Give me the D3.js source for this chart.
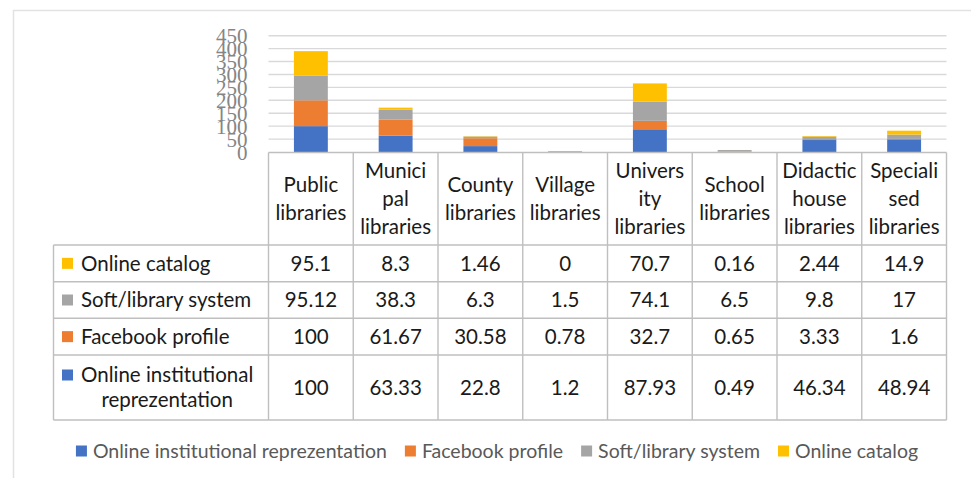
<!DOCTYPE html>
<html>
<head>
<meta charset="utf-8">
<script src="https://cdn.jsdelivr.net/npm/d3@7"></script>
<style>
  body { margin: 0; background: #fff; }
  svg { display: block; }
</style>
</head>
<body>
<div id="chart"></div>
<script>
// categories (header lines as they wrap in the table)
const categories = ['Public', 'Municipal', 'County', 'Village', 'University', 'School', 'Didactic', 'Specialised'];
const headerLines = [
    ['Public', 'libraries'],
    ['Munici', 'pal', 'libraries'],
    ['County', 'libraries'],
    ['Village', 'libraries'],
    ['Univers', 'ity', 'libraries'],
    ['School', 'libraries'],
    ['Didactic', 'house', 'libraries'],
    ['Speciali', 'sed', 'libraries']
];

// series values
const institutional = [100, 63.33, 22.8, 1.2, 87.93, 0.49, 46.34, 48.94];
const facebook = [100, 61.67, 30.58, 0.78, 32.7, 0.65, 3.33, 1.6];
const soft = [95.12, 38.3, 6.3, 1.5, 74.1, 6.5, 9.8, 17];
const catalog = [95.1, 8.3, 1.46, 0, 70.7, 0.16, 2.44, 14.9];

const seriesNames = ['Online institutional reprezentation', 'Facebook profile', 'Soft/library system', 'Online catalog'];
const seriesLabelLines = [['Online institutional', 'reprezentation'], ['Facebook profile'], ['Soft/library system'], ['Online catalog']];
const seriesValues = [institutional, facebook, soft, catalog];
const colors = ['#4472C4', '#ED7D31', '#A5A5A5', '#FFC000'];

const yTicks = [0, 50, 100, 150, 200, 250, 300, 350, 400, 450];

const W = 971, H = 478;
const font = 'Lato, "Open Sans", sans-serif';
const border = '#bfbfbf';

const svg = d3.select('#chart').append('svg')
    .attr('width', W)
    .attr('height', H);

// outer frame
svg.append('rect')
    .attr('x', 13.5).attr('y', 10.5)
    .attr('width', W + 20).attr('height', H + 20)
    .attr('fill', 'none')
    .attr('stroke', '#e2e2e2')
    .attr('stroke-width', 1.5);

const plotLeft = 268.5, plotRight = 946.5;
const plotBottom = 152, plotTop = 35.7;

const x = d3.scaleBand()
    .domain(categories)
    .range([plotLeft, plotRight])
    .padding(0);

const y = d3.scaleLinear()
    .domain([0, 450])
    .range([plotBottom, plotTop]);

// gridlines
svg.append('g')
    .selectAll('line')
    .data(yTicks.filter(d => d > 0))
    .enter()
    .append('line')
    .attr('x1', plotLeft)
    .attr('x2', plotRight)
    .attr('y1', d => y(d))
    .attr('y2', d => y(d))
    .attr('stroke', '#d9d9d9')
    .attr('stroke-width', 1.4);

// y axis
const yAxis = svg.append('g')
    .attr('transform', `translate(${plotLeft - 21}, 0)`)
    .call(d3.axisLeft(y).tickValues(yTicks).tickSize(0).tickPadding(0));
yAxis.select('.domain').remove();
yAxis.selectAll('.tick text')
    .attr('dy', '0.34em')
    .style('font-family', '"Liberation Serif", "DejaVu Serif", serif')
    .style('font-size', '21px')
    .style('fill', '#858585');

// stacked bars
const rows = categories.map((c, i) => {
    const r = { cat: c };
    seriesNames.forEach((s, j) => { r[s] = seriesValues[j][i]; });
    return r;
});
const stacked = d3.stack().keys(seriesNames)(rows);

const barW = x.bandwidth() * 0.4;
svg.append('g')
    .selectAll('g')
    .data(stacked)
    .enter()
    .append('g')
    .attr('fill', (d, i) => colors[i])
    .selectAll('rect')
    .data(d => d)
    .enter()
    .append('rect')
    .attr('x', d => x(d.data.cat) + (x.bandwidth() - barW) / 2)
    .attr('width', barW)
    .attr('y', d => y(d[1]))
    .attr('height', d => y(d[0]) - y(d[1]));

// data table
const tableLeft = 53.5;
const headerTop = plotBottom + 0.5, headerBottom = 245;
const rowEdges = [245, 281.7, 318.3, 355, 420];
const tableOrder = [3, 2, 1, 0]; // top to bottom rows
const lineH = 28;

const table = svg.append('g')
    .style('font-family', font)
    .style('font-size', '20.5px')
    .style('fill', '#1a1a1a');

// header cells
categories.forEach((c, i) => {
    const cx = x(c) + x.bandwidth() / 2;
    const lines = headerLines[i];
    const mid = (headerTop + headerBottom) / 2;
    lines.forEach((t, k) => {
        table.append('text')
            .attr('x', cx)
            .attr('y', mid + (k - (lines.length - 1) / 2) * lineH)
            .attr('dy', '0.35em')
            .attr('text-anchor', 'middle')
            .text(t);
    });
});

// value rows
tableOrder.forEach((s, r) => {
    const top = rowEdges[r], bottom = rowEdges[r + 1];
    const mid = (top + bottom) / 2;
    const lines = seriesLabelLines[s];

    table.append('rect')
        .attr('x', 62)
        .attr('y', mid - (lines.length - 1) / 2 * (lineH - 3) - 5.5)
        .attr('width', 11)
        .attr('height', 11)
        .attr('fill', colors[s]);

    let firstCenter = null;
    lines.forEach((t, k) => {
        const ty = mid + (k - (lines.length - 1) / 2) * (lineH - 3);
        const txt = table.append('text')
            .attr('y', ty)
            .attr('dy', '0.35em')
            .text(t);
        if (k === 0) {
            txt.attr('x', 81);
            firstCenter = 81 + txt.node().getComputedTextLength() / 2;
        } else {
            txt.attr('x', firstCenter).attr('text-anchor', 'middle');
        }
    });

    categories.forEach((c, i) => {
        table.append('text')
            .attr('x', x(c) + x.bandwidth() / 2)
            .attr('y', mid)
            .attr('dy', '0.35em')
            .attr('text-anchor', 'middle')
            .text(String(seriesValues[s][i]));
    });
});

// grid of the table
const grid = svg.append('g')
    .attr('stroke', border)
    .attr('stroke-width', 1.4)
    .attr('fill', 'none');

grid.append('line')
    .attr('x1', plotLeft).attr('x2', plotRight)
    .attr('y1', headerTop).attr('y2', headerTop);
rowEdges.forEach(e => {
    grid.append('line')
        .attr('x1', tableLeft).attr('x2', plotRight)
        .attr('y1', e).attr('y2', e);
});
grid.append('line')
    .attr('x1', tableLeft).attr('x2', tableLeft)
    .attr('y1', rowEdges[0]).attr('y2', rowEdges[rowEdges.length - 1]);
categories.forEach(c => {
    grid.append('line')
        .attr('x1', x(c)).attr('x2', x(c))
        .attr('y1', headerTop).attr('y2', rowEdges[rowEdges.length - 1]);
});
grid.append('line')
    .attr('x1', plotRight).attr('x2', plotRight)
    .attr('y1', headerTop).attr('y2', rowEdges[rowEdges.length - 1]);

// legend
const legend = svg.append('g')
    .style('font-family', font)
    .style('font-size', '19.5px')
    .style('fill', '#595959');
const legendY = 451;
let lx = 0;
seriesNames.forEach((s, i) => {
    const g = legend.append('g');
    g.append('rect')
        .attr('x', 0).attr('y', legendY - 5.5)
        .attr('width', 11).attr('height', 11)
        .attr('fill', colors[i]);
    const t = g.append('text')
        .attr('x', 17).attr('y', legendY)
        .attr('dy', '0.35em')
        .text(s);
    g.attr('transform', `translate(${lx}, 0)`);
    lx += 17 + t.node().getComputedTextLength() + 18;
});
const legendWidth = lx - 18;
legend.attr('transform', `translate(${497 - legendWidth / 2}, 0)`);
</script>
</body>
</html>
